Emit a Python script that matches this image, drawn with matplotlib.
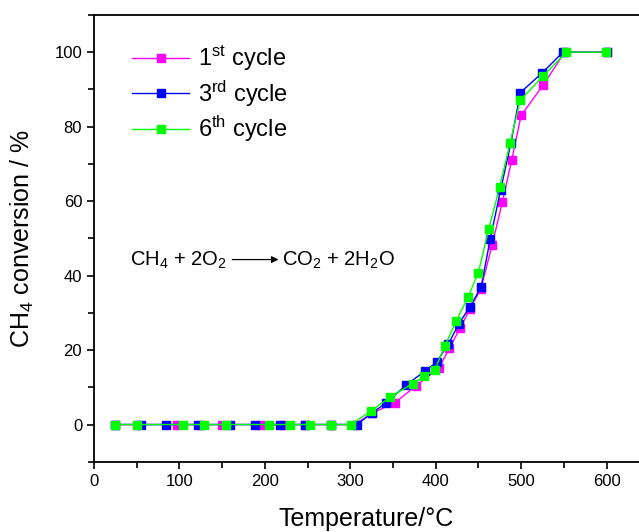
import matplotlib

matplotlib.use("Agg")
import matplotlib.pyplot as plt
from matplotlib.ticker import MultipleLocator

plt.rcParams["font.family"] = ["Liberation Sans", "DejaVu Sans"]
plt.rcParams["mathtext.fontset"] = "custom"
plt.rcParams["mathtext.rm"] = "Liberation Sans"
plt.rcParams["mathtext.it"] = "Liberation Sans"

# 1st cycle
t1 = [25, 50, 97, 125, 150, 196, 222, 247, 277, 305, 325, 352, 377, 404,
      416, 429, 440, 453, 466, 478, 489, 500, 526, 551, 600]
c1 = [0, 0, 0, 0, 0, 0, 0, 0, 0, 0, 3.0, 5.8, 10.4, 15.2,
      20.5, 26.0, 31.0, 36.5, 48.1, 59.7, 71.0, 83.0, 91.2, 100, 100]

# 3rd cycle
t3 = [25, 55, 84, 122, 159, 188, 218, 247, 277, 308, 325, 342, 365, 387,
      401, 415, 427, 440, 453, 464, 476, 488, 499, 525, 549, 600]
c3 = [0, 0, 0, 0, 0, 0, 0, 0, 0, 0, 3.0, 5.8, 10.5, 14.3,
      16.7, 21.7, 27.0, 31.6, 36.8, 49.9, 63.0, 75.5, 89.1, 94.5, 100, 100]

# 6th cycle
t6 = [25, 50, 104, 129, 155, 205, 229, 253, 277, 301, 324, 347, 373, 386,
      399, 411, 424, 438, 450, 462, 475, 487, 499, 526, 553, 599]
c6 = [0, 0, 0, 0, 0, 0, 0, 0, 0, 0, 3.6, 7.4, 11.0, 12.9,
      14.7, 21.2, 27.8, 34.3, 40.8, 52.4, 63.9, 75.5, 87.1, 93.6, 100, 100]

series = [
    (t1, c1, "#ff00ff", r"1$^{\mathrm{st}}$ cycle"),
    (t3, c3, "#0000ff", r"3$^{\mathrm{rd}}$ cycle"),
    (t6, c6, "#00ff00", r"6$^{\mathrm{th}}$ cycle"),
]

fig = plt.figure(figsize=(6.39, 5.32), dpi=100)
ax = fig.add_axes([0.147, 0.132, 0.853, 0.840])

for t, c, col, lab in series:
    ax.plot(t, c, color=col, lw=1.0, marker="s", ms=6, mec=col, mfc=col,
            label=lab)

ax.set_xlim(0, 638)
ax.set_ylim(-10, 110)
ax.xaxis.set_major_locator(MultipleLocator(100))
ax.xaxis.set_minor_locator(MultipleLocator(50))
ax.yaxis.set_major_locator(MultipleLocator(20))
ax.yaxis.set_minor_locator(MultipleLocator(10))
ax.tick_params(which="both", direction="out", width=1.2, labelsize=12,
               top=False, right=False)
ax.tick_params(which="major", length=5)
ax.tick_params(which="minor", length=4)
for s in ax.spines.values():
    s.set_linewidth(1.3)
ax.spines["right"].set_visible(False)

ax.set_xlabel("Temperature/°C", fontsize=18, labelpad=13)
ax.set_ylabel("CH$_4$ conversion / %", fontsize=18, labelpad=13)

leg = ax.legend(loc="upper left", bbox_to_anchor=(0.04, 0.972), frameon=False,
                fontsize=17, handlelength=2.4, handletextpad=0.4,
                labelspacing=0.22, borderaxespad=0.3)

ax.text(42, 44, "CH$_4$ + 2O$_2$", fontsize=14.5, va="center", ha="left")
ax.annotate("", xy=(216, 44.3), xytext=(162, 44.3),
            arrowprops=dict(arrowstyle="-|>", color="black", lw=0.9,
                            mutation_scale=10, shrinkA=0, shrinkB=0))
ax.text(220, 44, "CO$_2$ + 2H$_2$O", fontsize=14.5, va="center", ha="left")

fig.savefig("out.png", dpi=100)
